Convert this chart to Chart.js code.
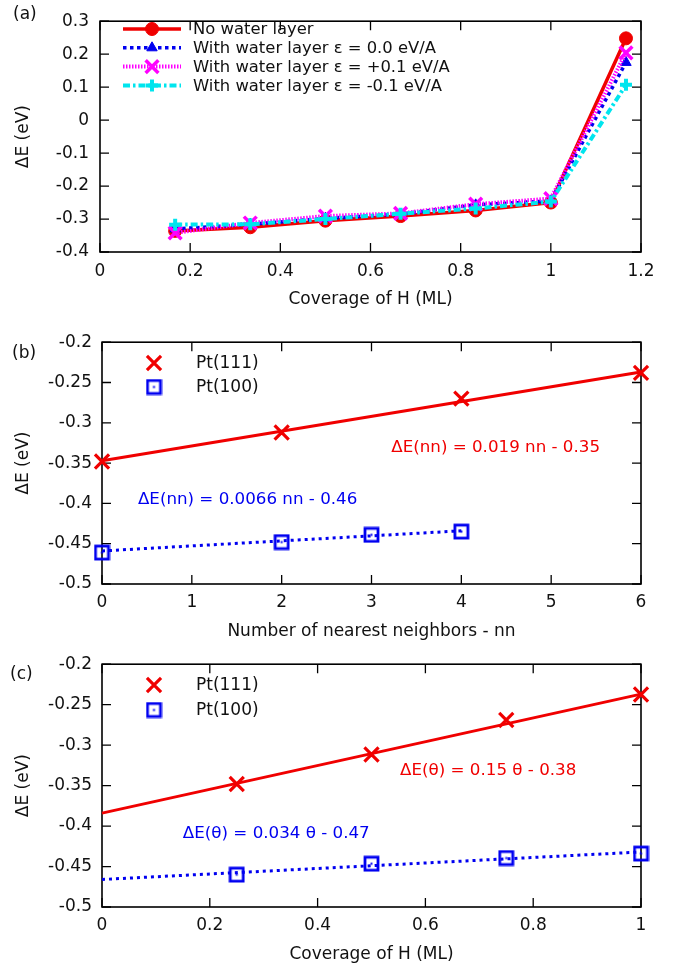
<!DOCTYPE html>
<html>
<head>
<meta charset="utf-8">
<script src="https://cdn.jsdelivr.net/npm/chart.js@4.4.0/dist/chart.umd.min.js"></script>
<style>
  html, body { margin: 0; padding: 0; background: #fff; }
  #page { position: relative; width: 678px; height: 968px; overflow: hidden; }
  .panel { position: absolute; left: 0; width: 678px; }
  .tag { position: absolute; font: 17px "DejaVu Sans", sans-serif; color: #111; line-height: 20px; }
</style>
</head>
<body>
<div id="page">
  <div class="panel" style="top:0;height:322px"><canvas id="chartA"></canvas></div>
  <div class="panel" style="top:322px;height:322px"><canvas id="chartB"></canvas></div>
  <div class="panel" style="top:644px;height:324px"><canvas id="chartC"></canvas></div>
  <div class="tag" style="left:13px;top:3px">(a)</div>
  <div class="tag" style="left:12px;top:342px">(b)</div>
  <div class="tag" style="left:10px;top:663px">(c)</div>
</div>
<script>
// ===== (a) dữ liệu: năng lượng theo độ phủ H =====
const coverageA = [0.1667, 0.3333, 0.5, 0.6667, 0.8333, 1.0, 1.1667];
const noWater = [-0.336, -0.325, -0.305, -0.291, -0.274, -0.25, 0.248];
const water00 = [-0.33, -0.316, -0.298, -0.285, -0.257, -0.245, 0.175];
const waterPlus = [-0.342, -0.312, -0.291, -0.283, -0.255, -0.238, 0.204];
const waterMinus = [-0.317, -0.316, -0.3, -0.284, -0.268, -0.247, 0.107];
const xTicksA = [0, 0.2, 0.4, 0.6, 0.8, 1, 1.2];
const yTicksA = [-0.4, -0.3, -0.2, -0.1, 0, 0.1, 0.2, 0.3];

// ===== (b) theo số lân cận gần nhất =====
const nn111 = [0, 2, 4, 6];
const dE111nn = [-0.348, -0.312, -0.27, -0.238];
const nn100 = [0, 2, 3, 4];
const dE100nn = [-0.461, -0.448, -0.439, -0.435];
const fit111nnX = [0, 6];
const fit111nnY = [-0.347, -0.237];
const fit100nnX = [0, 4];
const fit100nnY = [-0.459, -0.434];
const xTicksB = [0, 1, 2, 3, 4, 5, 6];

// ===== (c) theo độ phủ θ =====
const theta = [0.25, 0.5, 0.75, 1.0];
const dE111th = [-0.348, -0.3115, -0.269, -0.2375];
const dE100th = [-0.46, -0.4465, -0.4395, -0.434];
const fitThX = [0, 1];
const fit111thY = [-0.384, -0.237];
const fit100thY = [-0.466, -0.432];
const xTicksC = [0, 0.2, 0.4, 0.6, 0.8, 1];
const yTicksBC = [-0.5, -0.45, -0.4, -0.35, -0.3, -0.25, -0.2];

const RED = "#f00000";
const BLUE = "#0000f0";
const MAGENTA = "#ff00ff";
const CYAN = "#00e5ee";
const INK = "#111";

Chart.defaults.font.family = "'DejaVu Sans', sans-serif";
Chart.defaults.font.size = 17;
Chart.defaults.color = INK;

const pts = (xs, ys) => xs.map((x, i) => ({ x: x, y: ys[i] }));
const fmt = (v) => String(Math.round(v * 1000) / 1000);

// ô vuông có chấm giữa (kiểu gnuplot)
function squareDot(color) {
  const c = document.createElement("canvas");
  c.width = 17;
  c.height = 17;
  const g = c.getContext("2d");
  g.strokeStyle = color;
  g.lineWidth = 2.8;
  g.strokeRect(2, 2, 13, 13);
  g.fillStyle = color;
  g.fillRect(7.5, 7.5, 2, 2);
  return c;
}
const sqBlue = squareDot(BLUE);

// khung + vạch chia hướng vào trong
const gpFrame = {
  id: "gpFrame",
  beforeDatasetsDraw(chart) {
    const { ctx, chartArea: a, scales } = chart;
    ctx.save();
    ctx.strokeStyle = "#000";
    ctx.lineWidth = 1.3;
    ctx.beginPath();
    scales.x.ticks.forEach((t) => {
      const px = scales.x.getPixelForValue(t.value);
      ctx.moveTo(px, a.bottom);
      ctx.lineTo(px, a.bottom - 9);
      ctx.moveTo(px, a.top);
      ctx.lineTo(px, a.top + 9);
    });
    scales.y.ticks.forEach((t) => {
      const py = scales.y.getPixelForValue(t.value);
      ctx.moveTo(a.left, py);
      ctx.lineTo(a.left + 9, py);
      ctx.moveTo(a.right, py);
      ctx.lineTo(a.right - 9, py);
    });
    ctx.stroke();
    ctx.lineWidth = 1.6;
    ctx.strokeRect(a.left, a.top, a.right - a.left, a.bottom - a.top);
    ctx.restore();
  },
};

// chú giải tự vẽ
const gpLegend = {
  id: "gpLegend",
  afterDraw(chart, args, opts) {
    if (!opts.items) return;
    const ctx = chart.ctx;
    ctx.save();
    opts.items.forEach((it, i) => {
      const ds = chart.data.datasets[it.ds];
      const y = opts.y0 + i * opts.dy;
      if (opts.line) {
        ctx.strokeStyle = ds.borderColor;
        ctx.lineWidth = ds.borderWidth;
        ctx.setLineDash(ds.borderDash || []);
        ctx.beginPath();
        ctx.moveTo(opts.x0, y);
        ctx.lineTo(opts.x1, y);
        ctx.stroke();
      }
      ctx.setLineDash([]);
      ctx.strokeStyle = ds.pointBorderColor;
      ctx.fillStyle = ds.pointBackgroundColor;
      ctx.lineWidth = ds.pointBorderWidth;
      Chart.helpers.drawPoint(
        ctx,
        { pointStyle: ds.pointStyle, radius: ds.pointRadius, borderWidth: ds.pointBorderWidth, rotation: 0 },
        opts.xm,
        y
      );
      ctx.fillStyle = INK;
      ctx.font = opts.font + "px 'DejaVu Sans', sans-serif";
      ctx.textBaseline = "middle";
      ctx.textAlign = "left";
      ctx.fillText(it.text, opts.xt, y + 1);
    });
    ctx.restore();
  },
};

// phương trình khớp
const gpNotes = {
  id: "gpNotes",
  afterDraw(chart, args, opts) {
    if (!opts.items) return;
    const { ctx, scales } = chart;
    ctx.save();
    ctx.font = "16.7px 'DejaVu Sans', sans-serif";
    ctx.textBaseline = "middle";
    ctx.textAlign = "left";
    opts.items.forEach((n) => {
      ctx.fillStyle = n.color;
      ctx.fillText(n.text, scales.x.getPixelForValue(n.x), scales.y.getPixelForValue(n.y));
    });
    ctx.restore();
  },
};

function makePanel(id, p) {
  return new Chart(document.getElementById(id), {
    type: "scatter",
    data: { datasets: p.datasets },
    options: {
      responsive: true,
      maintainAspectRatio: false,
      animation: false,
      events: [],
      layout: { padding: { top: p.top, right: 37, bottom: 0, left: 0 } },
      scales: {
        x: {
          type: "linear",
          min: p.xTicks[0],
          max: p.xTicks[p.xTicks.length - 1],
          afterBuildTicks: (s) => { s.ticks = p.xTicks.map((v) => ({ value: v })); },
          afterFit: (s) => { s.height = p.xHeight; },
          grid: { display: false, drawTicks: false },
          border: { display: false },
          ticks: { padding: p.xPad, color: INK, maxRotation: 0, autoSkip: false, callback: fmt },
          title: { display: true, text: p.xTitle, color: INK, padding: { top: 0, bottom: p.titlePad } },
        },
        y: {
          type: "linear",
          min: p.yTicks[0],
          max: p.yTicks[p.yTicks.length - 1],
          afterBuildTicks: (s) => { s.ticks = p.yTicks.map((v) => ({ value: v })); },
          afterFit: (s) => { s.width = p.left; },
          grid: { display: false, drawTicks: false },
          border: { display: false },
          ticks: { padding: p.yPad, color: INK, autoSkip: false, callback: fmt },
          title: { display: true, text: "ΔE (eV)", color: INK, padding: { top: 13.5, bottom: 0 } },
        },
      },
      plugins: {
        legend: { display: false },
        tooltip: { enabled: false },
        gpLegend: p.legend,
        gpNotes: { items: p.notes },
      },
    },
    plugins: [gpFrame, gpLegend, gpNotes],
  });
}

// ===== (a) =====
makePanel("chartA", {
  top: 10, left: 100, xHeight: 70, xPad: 9.8, yPad: 11, titlePad: 11.8,
  xTicks: xTicksA, yTicks: yTicksA, xTitle: "Coverage of H (ML)",
  datasets: [
    { data: pts(coverageA, noWater), showLine: true, borderColor: RED, borderWidth: 3.5, order: 4, clip: false,
      pointStyle: "circle", pointRadius: 6.5, pointBackgroundColor: RED, pointBorderColor: RED, pointBorderWidth: 1 },
    { data: pts(coverageA, water00), showLine: true, borderColor: BLUE, borderWidth: 3.5, borderDash: [3.5, 3.5], order: 3, clip: false,
      pointStyle: "triangle", pointRadius: 6, pointBackgroundColor: BLUE, pointBorderColor: BLUE, pointBorderWidth: 1 },
    { data: pts(coverageA, waterPlus), showLine: true, borderColor: MAGENTA, borderWidth: 4, borderDash: [1.5, 1.5], order: 2, clip: false,
      pointStyle: "crossRot", pointRadius: 9, pointBackgroundColor: MAGENTA, pointBorderColor: MAGENTA, pointBorderWidth: 3.5 },
    { data: pts(coverageA, waterMinus), showLine: true, borderColor: CYAN, borderWidth: 4, borderDash: [7, 3, 2.5, 3], order: 1, clip: false,
      pointStyle: "cross", pointRadius: 6, pointBackgroundColor: CYAN, pointBorderColor: CYAN, pointBorderWidth: 4 },
  ],
  legend: {
    line: true, x0: 123, x1: 181, xm: 152, xt: 193, y0: 29, dy: 18.8, font: 16.4,
    items: [
      { ds: 0, text: "No water layer" },
      { ds: 1, text: "With water layer ε = 0.0 eV/A" },
      { ds: 2, text: "With water layer ε = +0.1 eV/A" },
      { ds: 3, text: "With water layer ε = -0.1 eV/A" },
    ],
  },
  notes: [],
});

// ===== (b) =====
makePanel("chartB", {
  top: 20, left: 102, xHeight: 60, xPad: 8.8, yPad: 10, titlePad: 2.1,
  xTicks: xTicksB, yTicks: yTicksBC, xTitle: "Number of nearest neighbors - nn",
  datasets: [
    { data: pts(nn111, dE111nn), showLine: false, clip: false, order: 1,
      pointStyle: "crossRot", pointRadius: 10, pointBackgroundColor: RED, pointBorderColor: RED, pointBorderWidth: 3.2 },
    { data: pts(nn100, dE100nn), showLine: false, clip: false, order: 1,
      pointStyle: sqBlue, pointRadius: 8, pointBackgroundColor: BLUE, pointBorderColor: BLUE, pointBorderWidth: 0 },
    { data: pts(fit111nnX, fit111nnY), showLine: true, borderColor: RED, borderWidth: 3, pointRadius: 0, order: 2, clip: false },
    { data: pts(fit100nnX, fit100nnY), showLine: true, borderColor: BLUE, borderWidth: 3, borderDash: [3, 4], pointRadius: 0, order: 2, clip: false },
  ],
  legend: {
    line: false, xm: 154, xt: 196, y0: 41, dy: 24, font: 17,
    items: [
      { ds: 0, text: "Pt(111)" },
      { ds: 1, text: "Pt(100)" },
    ],
  },
  notes: [
    { text: "ΔE(nn) = 0.019 nn - 0.35", x: 3.22, y: -0.331, color: RED },
    { text: "ΔE(nn) = 0.0066 nn - 0.46", x: 0.4, y: -0.395, color: BLUE },
  ],
});

// ===== (c) =====
makePanel("chartC", {
  top: 20, left: 102, xHeight: 61, xPad: 8.8, yPad: 10, titlePad: 2.8,
  xTicks: xTicksC, yTicks: yTicksBC, xTitle: "Coverage of H (ML)",
  datasets: [
    { data: pts(theta, dE111th), showLine: false, clip: false, order: 1,
      pointStyle: "crossRot", pointRadius: 10, pointBackgroundColor: RED, pointBorderColor: RED, pointBorderWidth: 3.2 },
    { data: pts(theta, dE100th), showLine: false, clip: false, order: 1,
      pointStyle: sqBlue, pointRadius: 8, pointBackgroundColor: BLUE, pointBorderColor: BLUE, pointBorderWidth: 0 },
    { data: pts(fitThX, fit111thY), showLine: true, borderColor: RED, borderWidth: 3, pointRadius: 0, order: 2, clip: false },
    { data: pts(fitThX, fit100thY), showLine: true, borderColor: BLUE, borderWidth: 3, borderDash: [3, 4], pointRadius: 0, order: 2, clip: false },
  ],
  legend: {
    line: false, xm: 154, xt: 196, y0: 41, dy: 25, font: 17,
    items: [
      { ds: 0, text: "Pt(111)" },
      { ds: 1, text: "Pt(100)" },
    ],
  },
  notes: [
    { text: "ΔE(θ) = 0.15 θ - 0.38", x: 0.553, y: -0.331, color: RED },
    { text: "ΔE(θ) = 0.034 θ - 0.47", x: 0.15, y: -0.41, color: BLUE },
  ],
});
</script>
</body>
</html>
